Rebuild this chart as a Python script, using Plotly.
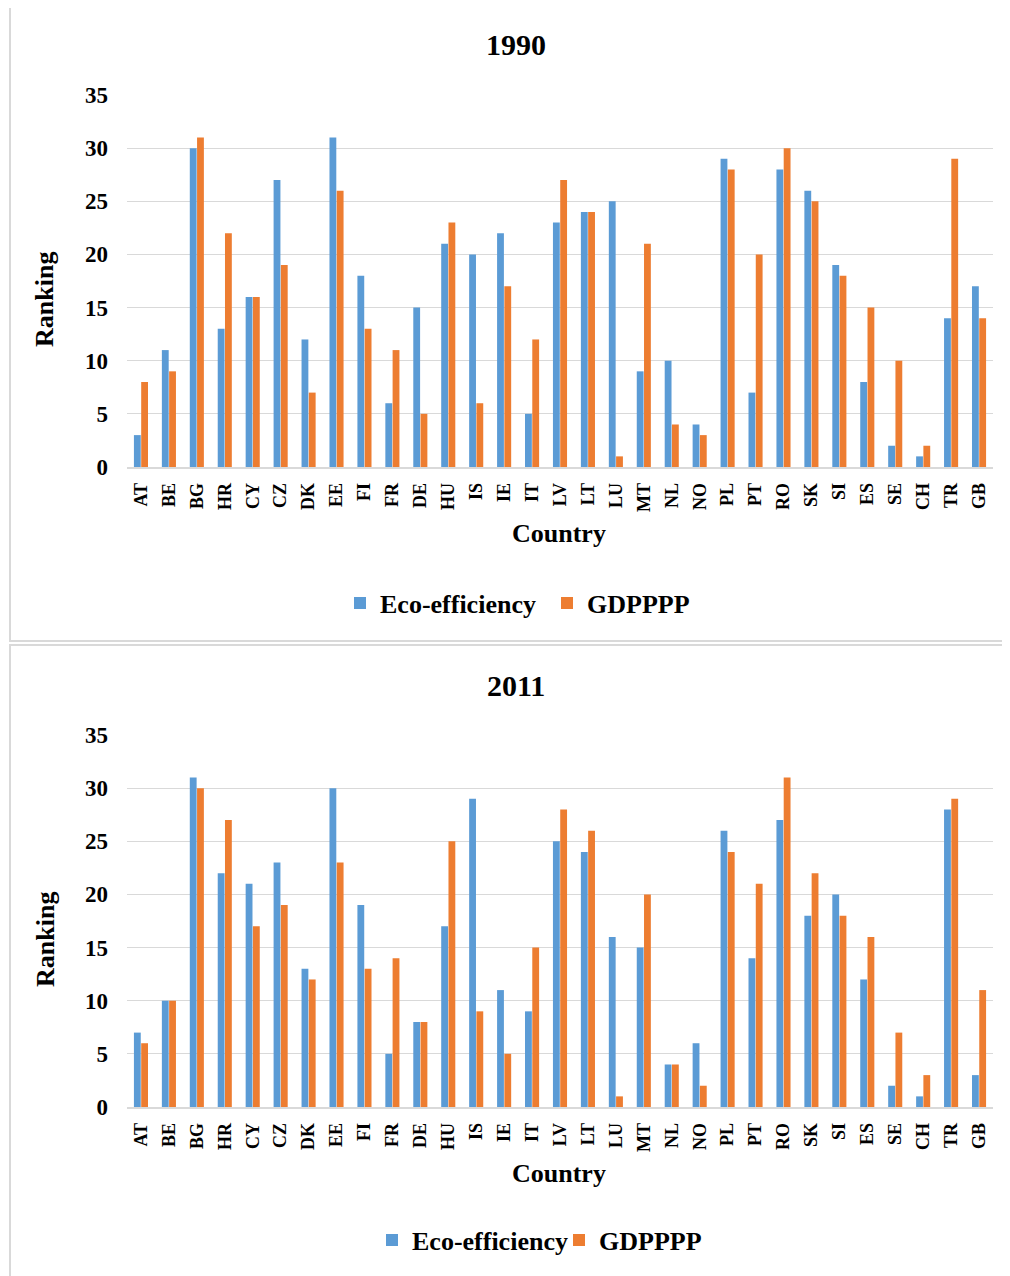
import plotly.graph_objects as go

countries = ["AT", "BE", "BG", "HR", "CY", "CZ", "DK", "EE", "FI", "FR", "DE", "HU", "IS", "IE", "IT",
             "LV", "LT", "LU", "MT", "NL", "NO", "PL", "PT", "RO", "SK", "SI", "ES", "SE", "CH", "TR", "GB"]

eco_1990 = [3, 11, 30, 13, 16, 27, 12, 31, 18, 6, 15, 21, 20, 22, 5, 23, 24, 25, 9, 10, 4, 29, 7, 28, 26, 19, 8, 2, 1, 14, 17]
gdp_1990 = [8, 9, 31, 22, 16, 19, 7, 26, 13, 11, 5, 23, 6, 17, 12, 27, 24, 1, 21, 4, 3, 28, 20, 30, 25, 18, 15, 10, 2, 29, 14]

eco_2011 = [7, 10, 31, 22, 21, 23, 13, 30, 19, 5, 8, 17, 29, 11, 9, 25, 24, 16, 15, 4, 6, 26, 14, 27, 18, 20, 12, 2, 1, 28, 3]
gdp_2011 = [6, 10, 30, 27, 17, 19, 12, 23, 13, 14, 8, 25, 9, 5, 15, 28, 26, 1, 20, 4, 2, 24, 21, 31, 22, 18, 16, 7, 3, 29, 11]

y_ticks = [0, 5, 10, 15, 20, 25, 30, 35]

W, H = 1010, 1276
BLUE = "#5B9BD5"
ORANGE = "#ED7D31"
GRID = "#D9D9D9"
FONT = "Liberation Serif, Times New Roman, serif"
OFF = 8  # page body margin offset


def px(p):
    return (p - OFF) / W


def py(p):
    return 1 - (p - OFF) / H


fig = go.Figure()

panels = [
    ("1990", eco_1990, gdp_1990, "x", "y", "legend", 0),
    ("2011", eco_2011, gdp_2011, "x2", "y2", "legend2", 640),
]

for title, eco, gdp, xa, ya, lg, off in panels:
    fig.add_trace(go.Bar(x=countries, y=eco, name="Eco-efficiency", marker=dict(color=BLUE, line=dict(width=0)),
                         xaxis=xa, yaxis=ya, legend=lg))
    fig.add_trace(go.Bar(x=countries, y=gdp, name="GDPPPP", marker=dict(color=ORANGE, line=dict(width=0)),
                         xaxis=xa, yaxis=ya, legend=lg))

axis_common_x = dict(
    type="category", showgrid=False, showline=True, linecolor=GRID, linewidth=1.5,
    tickangle=-90, ticks="", tickfont=dict(family=FONT, size=18, color="black", weight="bold"),
    ticklabelstandoff=7, fixedrange=True, zeroline=False,
)
axis_common_y = dict(
    range=[0, 35], tickvals=y_ticks, showgrid=True, gridcolor=GRID, gridwidth=1.2,
    showline=False, zeroline=False, ticks="",
    tickfont=dict(family=FONT, size=23, color="black", weight="bold"),
    ticklabelstandoff=18, fixedrange=True,
)

legend_font = dict(family=FONT, size=26, color="black", weight="bold")

fig.update_layout(
    width=W, height=H, autosize=False,
    margin=dict(l=0, r=0, t=0, b=0, autoexpand=False),
    paper_bgcolor="white", plot_bgcolor="white",
    barmode="group", bargap=0.48, bargroupgap=0.06,
    xaxis=dict(domain=[px(127), px(993)], anchor="y", **axis_common_x),
    yaxis=dict(domain=[py(467), py(95)], anchor="x", **axis_common_y),
    xaxis2=dict(domain=[px(127), px(993)], anchor="y2", **axis_common_x),
    yaxis2=dict(domain=[py(1107), py(735)], anchor="x2", **axis_common_y),
    legend=dict(orientation="h", x=px(340), y=py(603), xanchor="left", yanchor="middle",
                font=legend_font, bgcolor="rgba(0,0,0,0)", itemwidth=30, entrywidth=162),
    legend2=dict(orientation="h", x=px(372), y=py(1240), xanchor="left", yanchor="middle",
                 font=legend_font, bgcolor="rgba(0,0,0,0)", itemwidth=30, entrywidth=142),
    showlegend=True,
)

shapes = [
    dict(type="rect", xref="paper", yref="paper", x0=px(10), x1=px(1030), y0=py(641), y1=py(5),
         line=dict(color=GRID, width=2), fillcolor="rgba(0,0,0,0)", layer="below"),
    dict(type="rect", xref="paper", yref="paper", x0=px(10), x1=px(1030), y0=py(1300), y1=py(645),
         line=dict(color=GRID, width=2), fillcolor="rgba(0,0,0,0)", layer="below"),
]
fig.update_layout(shapes=shapes)

annotations = []
for title, eco, gdp, xa, ya, lg, off in panels:
    annotations.append(dict(text=title, xref="paper", yref="paper", x=px(516), y=py(44 + off + (1 if off else 0)),
                            showarrow=False, xanchor="center", yanchor="middle",
                            font=dict(family=FONT, size=30, color="black", weight="bold")))
    annotations.append(dict(text="Ranking", xref="paper", yref="paper", x=px(45), y=py(300 + off),
                            showarrow=False, xanchor="center", yanchor="middle", textangle=-90,
                            font=dict(family=FONT, size=26, color="black", weight="bold")))
    annotations.append(dict(text="Country", xref="paper", yref="paper", x=px(559), y=py(533 + off),
                            showarrow=False, xanchor="center", yanchor="middle",
                            font=dict(family=FONT, size=26, color="black", weight="bold")))
fig.update_layout(annotations=annotations)

fig.write_html("out.html")
